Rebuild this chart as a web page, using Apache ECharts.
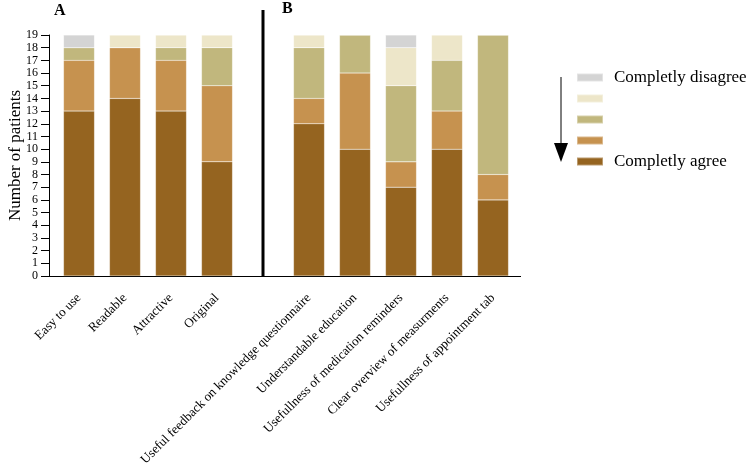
<!DOCTYPE html>
<html>
<head>
<meta charset="utf-8">
<script src="https://cdn.jsdelivr.net/npm/echarts@6/dist/echarts.min.js"></script>
<style>
  html, body { margin: 0; padding: 0; background: #fff; }
  #chart { width: 747px; height: 470px; }
</style>
</head>
<body>
<div id="chart"></div>
<script>
// categories: panel A, blank spacer, panel B
const categories = [
  'Easy to use', 'Readable', 'Attractive', 'Original', '',
  'Useful feedback on knowledge questionnaire', 'Understandable education',
  'Usefullness of medication reminders', 'Clear overview of measurments',
  'Usefullness of appointment tab'
];

// number of patients per answer (bottom -> top of each stack)
const completelyAgree    = [13, 14, 13, 9, null, 12, 10, 7, 10, 6];
const agree              = [4, 4, 4, 6, null, 2, 6, 2, 3, 2];
const neutral            = [1, 0, 1, 3, null, 4, 3, 6, 4, 11];
const disagree           = [0, 1, 1, 1, null, 1, 0, 3, 2, 0];
const completelyDisagree = [1, 0, 0, 0, null, 0, 0, 1, 0, 0];

const seriesNames = ['Completly agree', 'Agree', 'Neutral', 'Disagree', 'Completly disagree'];
const seriesData = [completelyAgree, agree, neutral, disagree, completelyDisagree];
const colors = ['#956420', '#c6924f', '#c1b77d', '#ede6c9', '#d4d4d4'];

const FONT = '"Liberation Serif", "DejaVu Serif", serif';

const chart = echarts.init(document.getElementById('chart'));

const option = {
  animation: false,
  color: colors,
  grid: { left: 56, top: 35, width: 460, height: 241, containLabel: false, outerBoundsMode: 'none' },
  legend: {
    orient: 'vertical',
    left: 571,
    top: 64,
    itemWidth: 26,
    itemHeight: 8,
    itemGap: 4,
    icon: 'rect',
    selectedMode: false,
    data: seriesNames.slice().reverse(),
    formatter: function (name) {
      return (name === 'Completly agree' || name === 'Completly disagree') ? name : ' ';
    },
    textStyle: { fontFamily: FONT, fontSize: 17, color: '#000', padding: [0, 0, 0, 6], height: 15, lineHeight: 15 }
  },
  xAxis: {
    type: 'category',
    data: categories,
    axisLine: { show: false },
    axisTick: { show: false },
    axisLabel: {
      interval: 0,
      rotate: 45,
      margin: 20,
      fontFamily: FONT,
      fontSize: 13,
      color: '#000'
    }
  },
  yAxis: {
    type: 'value',
    min: 0,
    max: 19,
    interval: 1,
    offset: 7,
    name: 'Number of patients',
    nameLocation: 'middle',
    nameRotate: 90,
    nameGap: 25,
    nameMoveOverlap: false,
    nameTextStyle: { fontFamily: FONT, fontSize: 17, color: '#000' },
    splitLine: { show: false },
    axisLine: { show: true, onZero: false, lineStyle: { color: '#000', width: 1 } },
    axisTick: { show: true, length: 8, lineStyle: { color: '#000', width: 1 } },
    axisLabel: {
      fontFamily: FONT, fontSize: 12, color: '#000', margin: 11,
      showMinLabel: true, showMaxLabel: true
    }
  },
  series: seriesNames.map((name, i) => ({
    name: name,
    type: 'bar',
    stack: 'total',
    barWidth: 31,
    data: seriesData[i],
    itemStyle: { borderColor: 'rgba(255,255,255,0.35)', borderWidth: 0.5 }
  }))
};

chart.setOption(option);

// decorations placed from the library's own scales
const origin = chart.convertToPixel({ gridIndex: 0 }, [0, 0]);
const top19 = chart.convertToPixel({ yAxisIndex: 0 }, 19);
const sepX = chart.convertToPixel({ xAxisIndex: 0 }, '');
const axisLeft = 49;

chart.setOption({
  graphic: [
    { type: 'line', shape: { x1: axisLeft, y1: origin[1] + 0.5, x2: 521, y2: origin[1] + 0.5 },
      style: { stroke: '#000', lineWidth: 1 } },
    { type: 'line', shape: { x1: axisLeft + 0.5, y1: top19, x2: axisLeft + 0.5, y2: origin[1] + 0.5 },
      style: { stroke: '#000', lineWidth: 1 } },
    { type: 'line', shape: { x1: sepX, y1: 10, x2: sepX, y2: origin[1] + 1 },
      style: { stroke: '#000', lineWidth: 3 } },
    { type: 'text', left: 54, top: 3,
      style: { text: 'A', font: 'bold 16px ' + FONT, fill: '#000' } },
    { type: 'text', left: 282, top: 1,
      style: { text: 'B', font: 'bold 16px ' + FONT, fill: '#000' } },
    { type: 'line', shape: { x1: 561, y1: 77, x2: 561, y2: 146 },
      style: { stroke: '#000', lineWidth: 1 } },
    { type: 'polygon', shape: { points: [[554, 143], [568, 143], [561, 162]] },
      style: { fill: '#000' } }
  ]
});
</script>
</body>
</html>
